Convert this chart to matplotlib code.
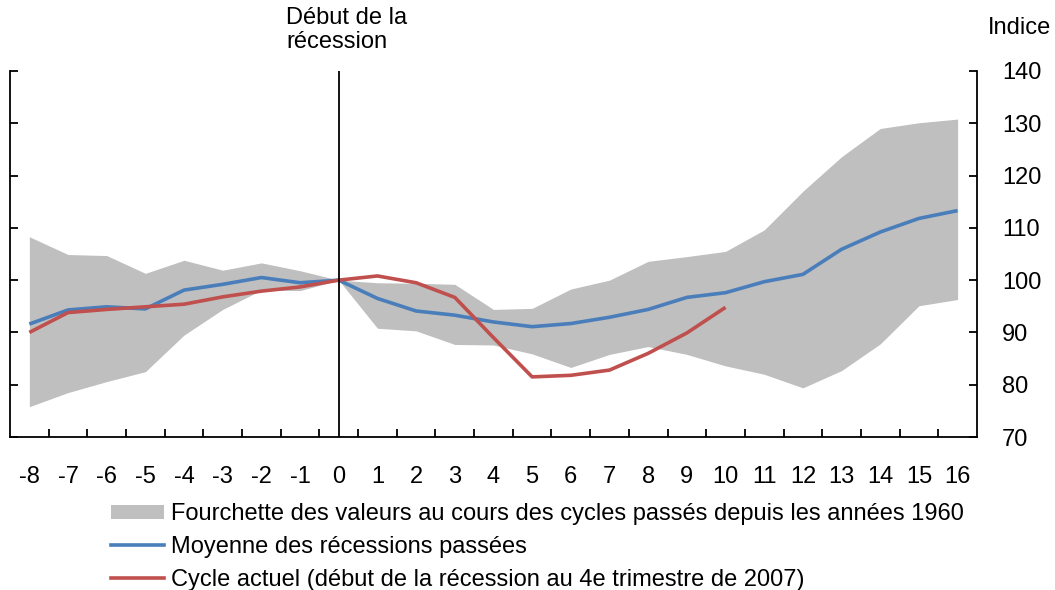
import matplotlib.pyplot as plt
from matplotlib.patches import Patch
from matplotlib.lines import Line2D

plt.rcParams['font.family'] = ['Liberation Sans', 'DejaVu Sans']

quarters = list(range(-8, 17))

# range over past cycles since the 1960s
band_high = [108.3, 104.9, 104.7, 101.3, 103.8, 101.9, 103.3, 101.8, 100.0,
             99.5, 99.4, 99.2, 94.4, 94.6, 98.3, 100.0, 103.6, 104.5, 105.5,
             109.6, 117.0, 123.6, 129.0, 130.1, 130.8]
band_low = [75.8, 78.5, 80.6, 82.5, 89.5, 94.4, 98.1, 98.0, 100.0,
            90.8, 90.3, 87.7, 87.6, 85.9, 83.3, 85.8, 87.3, 85.8, 83.6,
            82.0, 79.4, 82.7, 87.8, 95.1, 96.3]
# average of past recessions
avg_past = [91.6, 94.3, 94.9, 94.5, 98.1, 99.2, 100.5, 99.5, 100.0,
            96.5, 94.1, 93.3, 92.0, 91.1, 91.7, 92.9, 94.4, 96.7, 97.6,
            99.7, 101.1, 105.9, 109.2, 111.8, 113.3]
# current cycle (starts 2007 Q4), stops at quarter 10
current_q = list(range(-8, 11))
current = [90.0, 93.8, 94.4, 94.9, 95.4, 96.8, 97.9, 98.7, 100.0,
           100.8, 99.5, 96.7, 89.0, 81.5, 81.8, 82.8, 86.0, 89.9, 94.8]

labels = ['Fourchette des valeurs au cours des cycles passés depuis les années 1960',
          'Moyenne des récessions passées',
          'Cycle actuel (début de la récession au 4e trimestre de 2007)']

gray = '#bfbfbf'
blue = '#4a7ebb'
red = '#c0504d'
fs = 17

fig = plt.figure(figsize=(10.55, 5.9), dpi=100)
ax = fig.add_axes([0.0095, 0.2593, 0.9165, 0.6204])

ax.fill_between(quarters, band_low, band_high, color=gray, linewidth=0)
ax.plot(quarters, avg_past, color=blue, lw=2.6, solid_capstyle='butt')
ax.plot(current_q, current, color=red, lw=2.6, solid_capstyle='butt')
ax.axvline(0, color='black', lw=1.3)

ax.set_xlim(-8.5, 16.5)
ax.set_ylim(70, 140)

# y axis labels on the right, ticks on both sides pointing in
ax.yaxis.tick_right()
ax.set_yticks(range(70, 141, 10))
ax.tick_params(axis='y', which='major', direction='in', length=6, width=1.3,
               labelsize=fs, pad=18, left=True, right=True)

ax.set_xticks(quarters)
ax.set_xticklabels([str(q) for q in quarters])
ax.set_xticks([q + 0.5 for q in quarters[:-1]], minor=True)
ax.tick_params(axis='x', which='major', length=0, labelsize=fs, pad=21)
ax.tick_params(axis='x', which='minor', direction='in', length=6, width=1.3)

ax.spines['top'].set_visible(False)
for s in ['left', 'right', 'bottom']:
    ax.spines[s].set_linewidth(1.3)

fig.text(0.271, 0.988, 'Début de la\nrécession', fontsize=fs, ha='left', va='top',
         linespacing=1.1)
fig.text(0.936, 0.952, 'Indice', fontsize=fs, ha='left', va='center')

handles = [Patch(facecolor=gray, edgecolor='none'),
           Line2D([], [], color=blue, lw=2.6),
           Line2D([], [], color=red, lw=2.6)]
fig.legend(handles, labels, loc='upper left', bbox_to_anchor=(0.105, 0.147),
           frameon=False, fontsize=fs, handlelength=2.25, handleheight=0.5,
           handletextpad=0.3, labelspacing=0.45, borderpad=0, borderaxespad=0)

fig.savefig('out.png', dpi=100)
